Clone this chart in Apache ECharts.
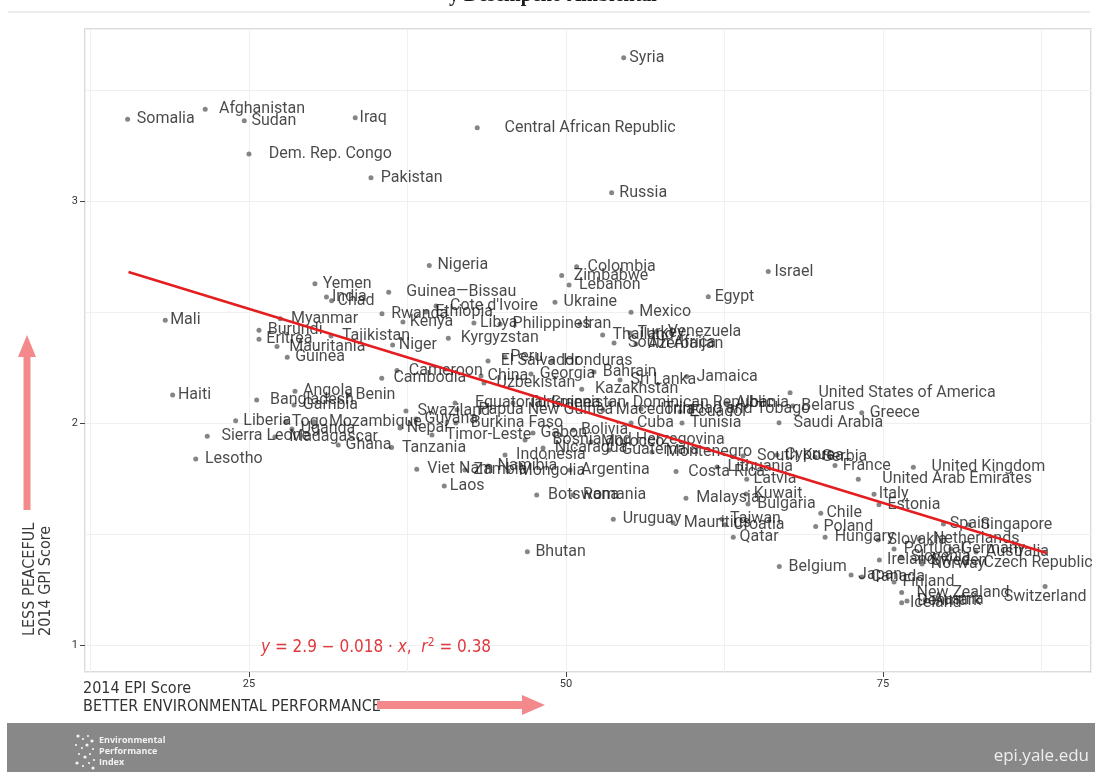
<!DOCTYPE html>
<html><head><meta charset="utf-8">
<script src="https://cdn.jsdelivr.net/npm/echarts@6/dist/echarts.min.js"></script>
<style>html,body{margin:0;padding:0;background:#fff}#c{width:1097px;height:772px}</style>
</head><body><div id="c"></div>
<script>
const countries = ["Somalia","Afghanistan","Sudan","Iraq","Dem. Rep. Congo","Pakistan","Central African Republic","Syria","Russia","Nigeria",
"Yemen","India","Chad","Guinea—Bissau","Mali","Myanmar","Rwanda","Ethiopia","Cote d'Ivoire","Kenya",
"Libya","Philippines","Iran","Kyrgyzstan","Burundi","Eritrea","Mauritania","Tajikistan","Niger","Guinea",
"Cameroon","Cambodia","Haiti","Angola","Benin","Bangladesh","Gambia","Liberia","Sierra Leone","Lesotho",
"Togo","Mozambique","Madagascar","Uganda","Ghana","Tanzania","Viet Nam","Laos","Swaziland","Nepal",
"Guyana","Timor-Leste","Burkina Faso","Equatorial Guinea","Papua New Guinea","Turkmenistan","Dominican Republic","Trinidad and Tobago","Ecuador","Macedonia",
"Albania","Tunisia","Peru","El Salvador","Honduras","China","Georgia","Bahrain","Sri Lanka","Jamaica",
"Uzbekistan","Kazakhstan","Gabon","Morocco","Bosnia and Herzegovina","Nicaragua","Montenegro","Guatemala","Cuba","Bolivia",
"Indonesia","Namibia","Mongolia","Zambia","Argentina","Costa Rica","Botswana","Romania","Malaysia","Uruguay",
"Mauritius","Taiwan","Croatia","Qatar","Bhutan","Lithuania","Latvia","Kuwait","Bulgaria","South Korea",
"Cyprus","Serbia","France","United Kingdom","United Arab Emirates","Italy","Estonia","Chile","Poland","Hungary",
"Belgium","Japan","Canada","Finland","New Zealand","Switzerland","Iceland","Denmark","Austria","Portugal",
"Germany","Australia","Ireland","Slovenia","Norway","Sweden","Czech Republic","Slovakia","Netherlands","Spain",
"Singapore","United States of America","Belarus","Greece","Saudi Arabia","Israel","Egypt","Mexico","Colombia","Zimbabwe",
"Lebanon","Ukraine","Thailand","South Africa","Turkey","Venezuela","Azerbaijan"];
const epiScores = [15.43,21.55,24.63,33.38,25.00,34.62,43.00,54.55,53.60,39.22,
30.20,31.11,31.52,36.02,18.40,27.47,35.49,38.96,39.75,37.14,
42.74,44.80,51.10,40.72,25.79,25.79,27.21,31.47,36.33,28.02,
36.67,35.47,18.98,28.63,32.89,25.61,28.55,23.95,21.71,20.80,
27.92,30.13,27.05,28.39,32.04,36.25,38.23,40.40,37.38,36.91,
38.17,39.43,41.32,41.25,41.40,45.82,53.47,55.91,58.99,52.92,
62.70,59.15,45.19,43.85,48.90,43.30,47.24,52.21,54.26,59.52,
43.53,51.24,47.40,51.97,46.77,48.19,56.78,53.39,55.13,50.58,
45.19,43.85,45.43,42.03,50.32,58.68,47.69,50.55,59.46,53.73,
58.44,62.30,62.54,63.19,46.95,61.91,64.25,64.20,64.35,63.96,
66.64,69.64,71.21,77.39,73.05,74.29,74.68,70.09,69.69,70.43,
66.82,72.48,73.34,75.87,76.47,87.78,76.47,76.89,78.31,75.87,
80.36,82.33,74.71,76.42,78.08,78.08,81.55,74.61,77.84,79.76,
81.78,67.67,67.88,73.32,66.80,65.95,61.22,55.13,50.84,49.66,
50.24,49.13,52.89,53.79,55.05,57.10,55.52];
const gpiScores = [3.368,3.413,3.362,3.375,3.212,3.105,3.330,3.646,3.037,2.710,
2.627,2.568,2.551,2.589,2.463,2.470,2.492,2.500,2.527,2.455,
2.450,2.446,2.446,2.382,2.418,2.377,2.344,2.392,2.351,2.296,
2.236,2.201,2.126,2.143,2.126,2.104,2.081,2.010,1.940,1.838,
2.005,2.005,1.937,1.973,1.901,1.889,1.791,1.716,2.054,1.977,
2.018,1.946,2.000,2.090,2.059,2.090,2.090,2.063,2.050,2.059,
2.090,2.000,2.297,2.279,2.279,2.212,2.221,2.230,2.194,2.209,
2.180,2.152,1.955,1.914,1.923,1.887,1.869,1.878,2.000,1.968,
1.856,1.806,1.784,1.788,1.788,1.781,1.676,1.676,1.661,1.566,
1.550,1.566,1.541,1.485,1.420,1.802,1.746,1.680,1.635,1.851,
1.856,1.847,1.808,1.800,1.746,1.679,1.631,1.593,1.533,1.485,
1.353,1.315,1.306,1.284,1.236,1.263,1.190,1.198,1.203,1.432,
1.432,1.419,1.383,1.396,1.365,1.378,1.369,1.473,1.477,1.545,
1.541,2.136,2.077,2.046,2.001,2.682,2.569,2.499,2.704,2.664,
2.622,2.544,2.396,2.360,2.405,2.411,2.356];
const xTicks = [25, 50, 75];
const yTicks = [1, 2, 3];
const trendEpi = [15.5, 87.9];
const trendGpi = [2.68, 1.414];

const chart = echarts.init(document.getElementById('c'), null, {renderer: 'canvas'});
const mctx = document.createElement('canvas').getContext('2d');
const LABEL_FONT = 'Roboto';
mctx.font = '16px ' + LABEL_FONT;
const points = countries.map((name, i) => {
  const w = mctx.measureText(name).width;
  const item = {name: name, value: [epiScores[i], gpiScores[i]], label: {distance: Math.max(1, 0.16 * w - 2.5)}};
  if (name === 'Switzerland') item.label = {position: 'bottom', distance: 0};
  return item;
});
const trend = trendEpi.map((x, i) => [x, trendGpi[i]]);

const X0 = 12.07, X1 = 91.4, Y0 = 0.878, Y1 = 3.775;
const pink = '#f4898b';
const narrow = '"Liberation Sans Narrow","DejaVu Sans Condensed",sans-serif';

const logoDots = [[78,736],[83,739],[88,736],[92,741],[76,745],[82,748],[87,745],[93,749],[79,754],[85,757],[90,754],[94,760],[77,763],[83,766],[89,763],[93,768]];
const logoGraphics = logoDots.map((p, i) => ({type: 'circle', shape: {cx: p[0], cy: p[1], r: (i % 3 === 0) ? 1.6 : 1.1}, style: {fill: '#f4f4f4'}, silent: true}));

chart.setOption({
  animation: false,
  backgroundColor: '#ffffff',
  grid: {left: 85, right: 6, top: 29, bottom: 100, show: true, borderColor: '#cfcfcf', borderWidth: 1.5, backgroundColor: '#ffffff'},
  xAxis: [
    {type: 'value', min: X0, max: X1, minInterval: 12.5, maxInterval: 12.5, splitNumber: 6,
      axisLine: {show: false}, axisTick: {show: false}, axisLabel: {show: false},
      splitLine: {show: true, lineStyle: {color: '#f0f0f0', width: 1}}},
    {type: 'value', min: X0, max: X1, position: 'bottom',
      axisLine: {show: false},
      axisTick: {show: true, customValues: xTicks, length: 5, lineStyle: {color: '#444', width: 1}},
      axisLabel: {show: true, customValues: xTicks, color: '#333', fontSize: 11, fontFamily: 'Roboto', margin: 7},
      splitLine: {show: false}}
  ],
  yAxis: [
    {type: 'value', min: Y0, max: Y1, minInterval: 0.5, maxInterval: 0.5, splitNumber: 6,
      axisLine: {show: false}, axisTick: {show: false}, axisLabel: {show: false},
      splitLine: {show: true, lineStyle: {color: '#f0f0f0', width: 1}}},
    {type: 'value', min: Y0, max: Y1, position: 'left',
      axisLine: {show: false},
      axisTick: {show: true, customValues: yTicks, length: 5, lineStyle: {color: '#444', width: 1}},
      axisLabel: {show: true, customValues: yTicks, color: '#333', fontSize: 11, fontFamily: 'Roboto', margin: 7},
      splitLine: {show: false}}
  ],
  series: [
    {type: 'scatter', xAxisIndex: 0, yAxisIndex: 0, z: 2, symbolSize: 5,
      itemStyle: {color: '#666666'},
      label: {show: true, position: 'right', formatter: '{b}', color: '#1c1c1c', fontSize: 16, fontFamily: LABEL_FONT},
      emphasis: {disabled: true},
      data: points},
    {type: 'line', xAxisIndex: 0, yAxisIndex: 0, z: 5, symbol: 'none', silent: true,
      lineStyle: {color: '#e41e20', width: 2.5},
      data: trend}
  ],
  graphic: [
    {type: 'text', x: 553, y: -14, style: {text: 'y Desempeño Ambiental', font: 'bold 20px "Liberation Serif", serif', fill: '#1a1a1a', align: 'center', verticalAlign: 'top'}, silent: true},
    {type: 'rect', shape: {x: 8, y: 11, width: 1082, height: 2}, style: {fill: '#ececec'}, silent: true},
    {type: 'text', x: 261, y: 648, z: 10,
      style: {text: '{i|y} = 2.9 − 0.018 · {i|x},  {i|r}{s|2} = 0.38', font: '17px ' + narrow, fill: '#e0393e', verticalAlign: 'middle',
        rich: {i: {fontStyle: 'italic', fontSize: 17, fontFamily: narrow, fill: '#e0393e'}, s: {fontSize: 12, fontFamily: narrow, fill: '#e0393e', verticalAlign: 'top', padding: [0,0,10,0]}}}, silent: true},
    {type: 'polygon', shape: {points: [[27,335],[36,357],[30.5,357],[30.5,510],[23.5,510],[23.5,357],[18,357]]}, style: {fill: pink}, silent: true},
    {type: 'text', x: 30, y: 636, rotation: Math.PI / 2, style: {text: 'LESS PEACEFUL', font: '16px ' + narrow, fill: '#3a3a3a', align: 'left', verticalAlign: 'middle'}, silent: true},
    {type: 'text', x: 46, y: 636, rotation: Math.PI / 2, style: {text: '2014 GPI Score', font: '16px ' + narrow, fill: '#3a3a3a', align: 'left', verticalAlign: 'middle'}, silent: true},
    {type: 'text', x: 83, y: 689, style: {text: '2014 EPI Score', font: '16px ' + narrow, fill: '#333', align: 'left', verticalAlign: 'middle'}, silent: true},
    {type: 'text', x: 83, y: 707, style: {text: 'BETTER ENVIRONMENTAL PERFORMANCE', font: '16px ' + narrow, fill: '#333', align: 'left', verticalAlign: 'middle'}, silent: true},
    {type: 'polygon', shape: {points: [[377,701],[522,701],[522,695],[545,705],[522,715],[522,709],[377,709]]}, style: {fill: pink}, silent: true},
    {type: 'rect', shape: {x: 7, y: 723, width: 1088, height: 50}, style: {fill: '#888888'}, silent: true},
    {type: 'text', x: 99, y: 740, style: {text: 'Environmental', font: 'bold 9px "Open Sans", sans-serif', fill: '#f2f2f2', verticalAlign: 'middle'}, silent: true},
    {type: 'text', x: 99, y: 751, style: {text: 'Performance', font: 'bold 9px "Open Sans", sans-serif', fill: '#f2f2f2', verticalAlign: 'middle'}, silent: true},
    {type: 'text', x: 99, y: 762, style: {text: 'Index', font: 'bold 9px "Open Sans", sans-serif', fill: '#f2f2f2', verticalAlign: 'middle'}, silent: true},
    ...logoGraphics,
    {type: 'text', x: 1089, y: 756, style: {text: 'epi.yale.edu', font: '17px "Open Sans", sans-serif', fill: '#eeeeee', align: 'right', verticalAlign: 'middle'}, silent: true}
  ]
});
</script>
</body></html>
